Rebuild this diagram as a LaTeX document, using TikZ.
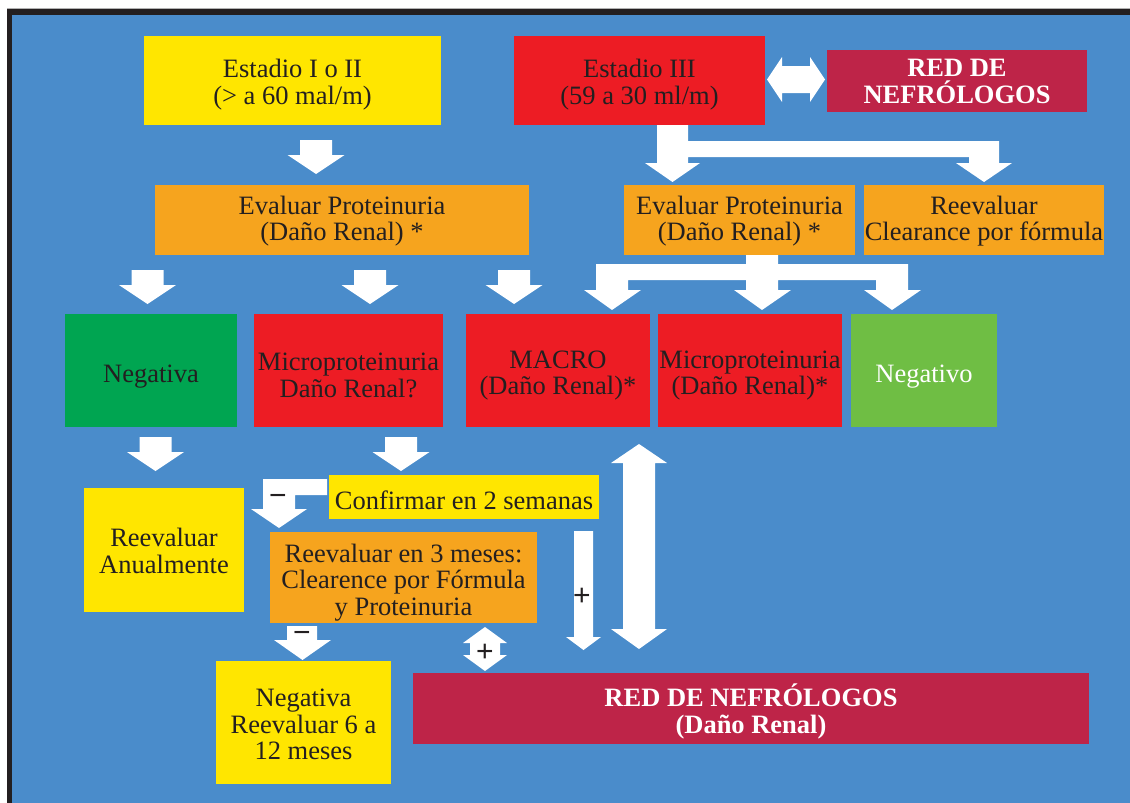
\documentclass[tikz,border=0pt]{standalone}
\usepackage{fontspec}
\setmainfont{Liberation Serif}
\newfontfamily\signfont{Liberation Sans}
\usetikzlibrary{calc}
\begin{document}
\definecolor{bgblue}{HTML}{4A8CCB}
\definecolor{ink}{HTML}{231F20}
\definecolor{cyell}{HTML}{FFE600}
\definecolor{corange}{HTML}{F6A41E}
\definecolor{cred}{HTML}{ED1C24}
\definecolor{cgreen}{HTML}{00A551}
\definecolor{clime}{HTML}{6FBE44}
\definecolor{ccrimson}{HTML}{BE2448}
% block arrow pointing down: centre x, top y, tip y
\newcommand\downblock[3]{%
  \fill[white] (#1-16,#2) -- (#1+16,#2) -- (#1+16,#3-19) -- (#1+28.5,#3-19)
    -- (#1,#3) -- (#1-28.5,#3-19) -- (#1-16,#3-19) -- cycle;}
\begin{tikzpicture}[x=1pt,y=-1pt,
  bx/.style={inner sep=0pt, draw=none},
  blk/.style={inner sep=0pt, align=center, text=ink,
    font=\fontsize{26.5}{26.5}\selectfont},
  whiteblk/.style={blk, text=white, font=\fontsize{26.5}{26.5}\selectfont\bfseries},
  sign/.style={inner sep=0pt, text=ink, font=\signfont\fontsize{30}{30}\selectfont}]
% frame and background
\fill[white] (0,0) rectangle (1130,803);
\fill[gray!60] (7,8) rectangle (1130,803);
\fill[ink] (7,9) rectangle (1130,803);
\fill[bgblue] (12,15) rectangle (1130,803);
\useasboundingbox (0,0) rectangle (1130,803);

% boxes
\node[bx, fill=cyell, minimum width=297pt, minimum height=89pt] (s12) at (292.5,80.5) {};
\node[bx, fill=cred, minimum width=251pt, minimum height=89pt] (s3) at (639.5,80.5) {};
\node[bx, fill=ccrimson, minimum width=260pt, minimum height=62pt] (red1) at (957,81) {};
\node[bx, fill=corange, minimum width=374pt, minimum height=70pt] (ev1) at (342,220) {};
\node[bx, fill=corange, minimum width=231pt, minimum height=70pt] (ev2) at (739.5,220) {};
\node[bx, fill=corange, minimum width=240pt, minimum height=70pt] (reev) at (984,220) {};
\node[bx, fill=cgreen, minimum width=172pt, minimum height=113pt] (neg1) at (151,370.5) {};
\node[bx, fill=cred, minimum width=189pt, minimum height=113pt] (mic1) at (348.5,370.5) {};
\node[bx, fill=cred, minimum width=184pt, minimum height=113pt] (macro) at (558,370.5) {};
\node[bx, fill=cred, minimum width=184pt, minimum height=113pt] (mic2) at (750,370.5) {};
\node[bx, fill=clime, minimum width=146pt, minimum height=113pt] (neg2) at (924,370.5) {};
\node[bx, fill=cyell, minimum width=160pt, minimum height=124pt] (anual) at (164,550) {};
\node[bx, fill=cyell, minimum width=270pt, minimum height=44pt] (conf) at (464,497) {};
\node[bx, fill=corange, minimum width=267pt, minimum height=91pt] (tres) at (403.5,577.5) {};
\node[bx, fill=cyell, minimum width=175pt, minimum height=123pt] (seis) at (303.5,722.5) {};
\node[bx, fill=ccrimson, minimum width=676pt, minimum height=71pt] (red2) at (751,708.5) {};

% box texts
\node[blk] (s12t) at ($(s12)+(0,4)$) {Estadio I o II\\(> a 60 mal/m)};
\node[blk] (s3t) at ($(s3)+(0,4)$) {Estadio III\\(59 a 30 ml/m)};
\node[whiteblk] (red1t) at ($(red1)+(0,0.5)$) {RED DE\\NEFRÓLOGOS};
\node[blk] (ev1t) at ($(ev1)+(0,1)$) {Evaluar Proteinuria\\(Daño Renal) *};
\node[blk] (ev2t) at ($(ev2)+(0,1)$) {Evaluar Proteinuria\\(Daño Renal) *};
\node[blk] (reevt) at ($(reev)+(0,1)$) {Reevaluar\\Clearance por fórmula};
\node[blk] (neg1t) at ($(neg1)+(0,6)$) {Negativa};
\node[blk] (mic1t) at ($(mic1)+(0,5)$) {Microproteinuria\\Daño Renal?};
\node[blk] (macrot) at ($(macro)+(0,5)$) {MACRO\\(Daño Renal)*};
\node[blk] (mic2t) at ($(mic2)+(0,5)$) {Microproteinuria\\(Daño Renal)*};
\node[blk, text=white] (neg2t) at ($(neg2)+(0,6)$) {Negativo};
\node[blk] (anualt) at ($(anual)+(0,1)$) {Reevaluar\\Anualmente};
\node[blk] (conft) at ($(conf)+(0,3)$) {Confirmar en 2 semanas};
\node[blk] (trest) at ($(tres)+(0,5)$) {Reevaluar en 3 meses:\\Clearence por Fórmula\\y Proteinuria};
\node[blk] (seist) at ($(seis)+(0,2)$) {Negativa\\Reevaluar 6 a\\12 meses};
\node[whiteblk] (red2t) at ($(red2)+(0,3)$) {RED DE NEFRÓLOGOS\\(Daño Renal)};

% straight down arrows
\downblock{316}{140}{174}
\downblock{147.5}{270}{304}
\downblock{370}{270}{304}
\downblock{514}{270}{304}
\downblock{155.5}{437}{471}
\downblock{401}{437}{471}

% Estadio III <-> red de nefrologos
\fill[white] (767,79.5) -- (782,57) -- (782,66) -- (810,66) -- (810,57) -- (825,79.5)
  -- (810,102) -- (810,93) -- (782,93) -- (782,102) -- cycle;

% branch from Estadio III
\fill[white] (657,125) -- (688,125) -- (688,141) -- (999,141) -- (999,163) -- (1012,163)
  -- (984,182) -- (956,163) -- (969,163) -- (969,157) -- (688,157) -- (688,163)
  -- (700,163) -- (672.5,182) -- (645,163) -- (657,163) -- cycle;

% branch from the second proteinuria box
\fill[white] (746,255) -- (778,255) -- (778,264) -- (908,264) -- (908,290) -- (921,290)
  -- (892,310) -- (864,290) -- (876,290) -- (876,280) -- (778,280) -- (778,290)
  -- (791,290) -- (762,310) -- (734,290) -- (746,290) -- (746,280) -- (628,280)
  -- (628,290) -- (641,290) -- (612,310) -- (584,290) -- (596,290) -- (596,264)
  -- (746,264) -- cycle;

% bent arrow, negative confirmation
\fill[white] (327,479) -- (327,495) -- (295,495) -- (295,509) -- (307,509) -- (279,528)
  -- (251,509) -- (263,509) -- (263,479) -- cycle;
\node[sign] (m1) at (278,500) {−};

% thin arrow, positive confirmation
\fill[white] (574,531) -- (593,531) -- (593,637) -- (601,637) -- (583.5,650) -- (566,637)
  -- (574,637) -- cycle;
\node[sign] (p1) at (582,597) {+};

% long double arrow between the damage boxes and the network
\fill[white] (639,444) -- (667,463) -- (655,463) -- (655,629) -- (667,629) -- (639,649)
  -- (611,629) -- (623,629) -- (623,463) -- (611,463) -- cycle;

% small negative arrow below the three month review
\fill[white] (287,626) -- (317,626) -- (317,640) -- (331,640) -- (302.5,660) -- (274,640)
  -- (287,640) -- cycle;
\node[sign] (m2) at (302,637) {−};

% small double positive arrow
\fill[white] (485,627) -- (507,643) -- (500,643) -- (500,655) -- (507,655) -- (485,671)
  -- (463,655) -- (470,655) -- (470,643) -- (463,643) -- cycle;
\node[sign] (p2) at (485,653) {+};
\end{tikzpicture}
\end{document}
